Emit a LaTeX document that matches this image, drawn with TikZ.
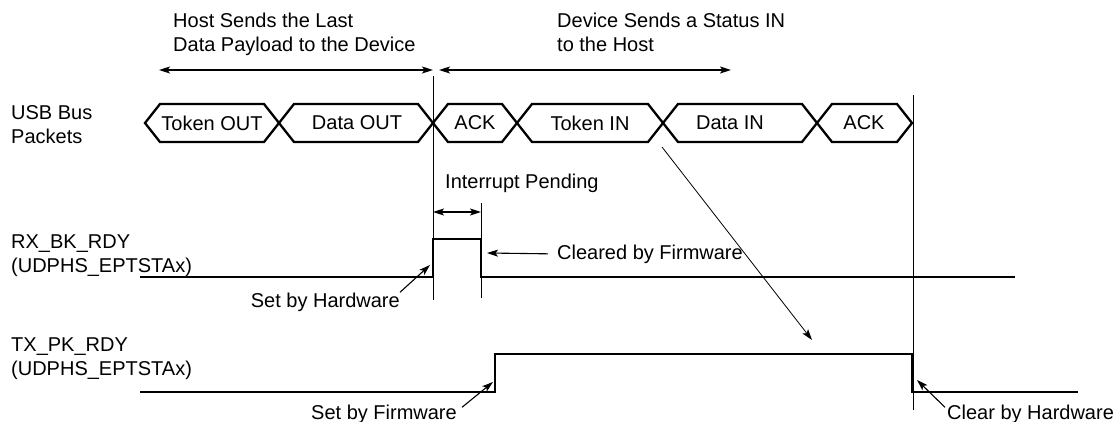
\documentclass[tikz,border=0pt]{standalone}
\usepackage{fontspec}
\setmainfont{Liberation Sans}
\usetikzlibrary{arrows.meta,positioning,calc}

\begin{document}
\begin{tikzpicture}[
  x=1pt, y=-1pt,
  >={Stealth[length=11pt,width=7pt,inset=2.5pt]},
  lbl/.style={font=\fontsize{20}{24}\selectfont, inner sep=0pt, align=left},
  pktname/.style={font=\fontsize{20}{24}\selectfont, inner sep=0pt},
  pkt/.style={line width=2.3pt, line join=miter},
  wave/.style={line width=2.7pt, line join=miter},
  guide/.style={line width=1pt},
  e/.style={->, line width=1.1pt},
  span/.style={<->, line width=1.4pt}
]
\useasboundingbox (0,0) rectangle (1114,422);

% Phase captions sit above their double arrows.
\node[lbl, anchor=north west] (hostcap) at (173,12.5) {Host Sends the Last\\Data Payload to the Device};
\node[lbl, anchor=north west] (devcap)  at (557,12.5) {Device Sends a Status IN\\to the Host};

\coordinate (hostL) at (159,70);
\coordinate (hostR) at (433,70);
\coordinate (devL)  at (439,70);
\coordinate (devR)  at (731,70);
\draw[span] (hostL) -- (hostR);
\draw[span] (devL)  -- (devR);

% Signal names down the left margin.
\node[lbl, anchor=north west] (buslbl) at (11,105.5) {USB Bus\\Packets};
\node[lbl, anchor=north west] (rxlbl)  at (11,234.5) {RX\_BK\_RDY\\(UDPHS\_EPTSTAx)};
\node[lbl, anchor=north west] (txlbl)  at (11,338)   {TX\_PK\_RDY\\(UDPHS\_EPTSTAx)};

% Bus packets: neighbouring hexagons share their tips, giving the X crossings.
\draw[pkt] (145,123) -- (160,104) -- (264,104) -- (279,123) -- (264,142) -- (160,142) -- cycle;
\draw[pkt] (279,123) -- (294,104) -- (418,104) -- (433,123) -- (418,142) -- (294,142) -- cycle;
\draw[pkt] (433,123) -- (448,104) -- (502,104) -- (517,123) -- (502,142) -- (448,142) -- cycle;
\draw[pkt] (517,123) -- (532,104) -- (648,104) -- (663,123) -- (648,142) -- (532,142) -- cycle;
\draw[pkt] (663,123) -- (678,104) -- (802,104) -- (817,123) -- (802,142) -- (678,142) -- cycle;
\draw[pkt] (817,123) -- (832,104) -- (897,104) -- (912,123) -- (897,142) -- (832,142) -- cycle;

\node[pktname] (tokout)  at (212,123) {Token OUT};
\node[pktname] (dataout) at (357,123) {Data OUT};
\node[pktname] (ack1)    at (475,123) {ACK};
\node[pktname] (tokin)   at (590,123) {Token IN};
\node[pktname] (datain)  at (730,123) {Data IN};
\node[pktname] (ack2)    at (864,123) {ACK};

% Timing guides.
\draw[guide] (433,76) -- (433,300);
\draw[guide] (481,203) -- (481,298);
\draw[guide] (913,95) -- (913,410);

% Waveforms.
\draw[wave] (140,277) -- (433,277) -- (433,239) -- (481,239) -- (481,277) -- (1015,277);
\draw[wave] (140,392) -- (495,392) -- (495,354) -- (912,354) -- (912,392) -- (1078,392);

% Interrupt pending window.
\node[lbl, anchor=base west] (irqlbl) at (445,189) {Interrupt Pending};
\coordinate (irqL) at (433,212);
\coordinate (irqR) at (481,212);
\draw[span] (irqL) -- (irqR);

% Edge annotations.
\node[lbl, anchor=base west] (clrfw) at (557,259) {Cleared by Firmware};
\node[lbl, anchor=base east] (sethw) at (400,307) {Set by Hardware};
\node[lbl, anchor=base east] (setfw) at (457,419) {Set by Firmware};
\node[lbl, anchor=base west] (clrhw) at (947,419) {Clear by Hardware};

\coordinate (rxset)  at (430,265);
\coordinate (rxclr)  at (487,253);
\coordinate (txset)  at (493,382);
\coordinate (txclr)  at (917,380);
\coordinate (inpkt)  at (662,147);
\coordinate (txhigh) at (812,340);

\draw[e] (sethw.north east) -- (rxset);
\draw[e] ([xshift=-9pt]clrfw.west) -- (rxclr);
\draw[e] ([xshift=5pt,yshift=-3pt]setfw.north east) -- (txset);
\draw[e] ([xshift=-2pt,yshift=-3pt]clrhw.north west) -- (txclr);
\draw[e, line width=0.8pt] (inpkt) -- (txhigh);

\end{tikzpicture}
\end{document}
